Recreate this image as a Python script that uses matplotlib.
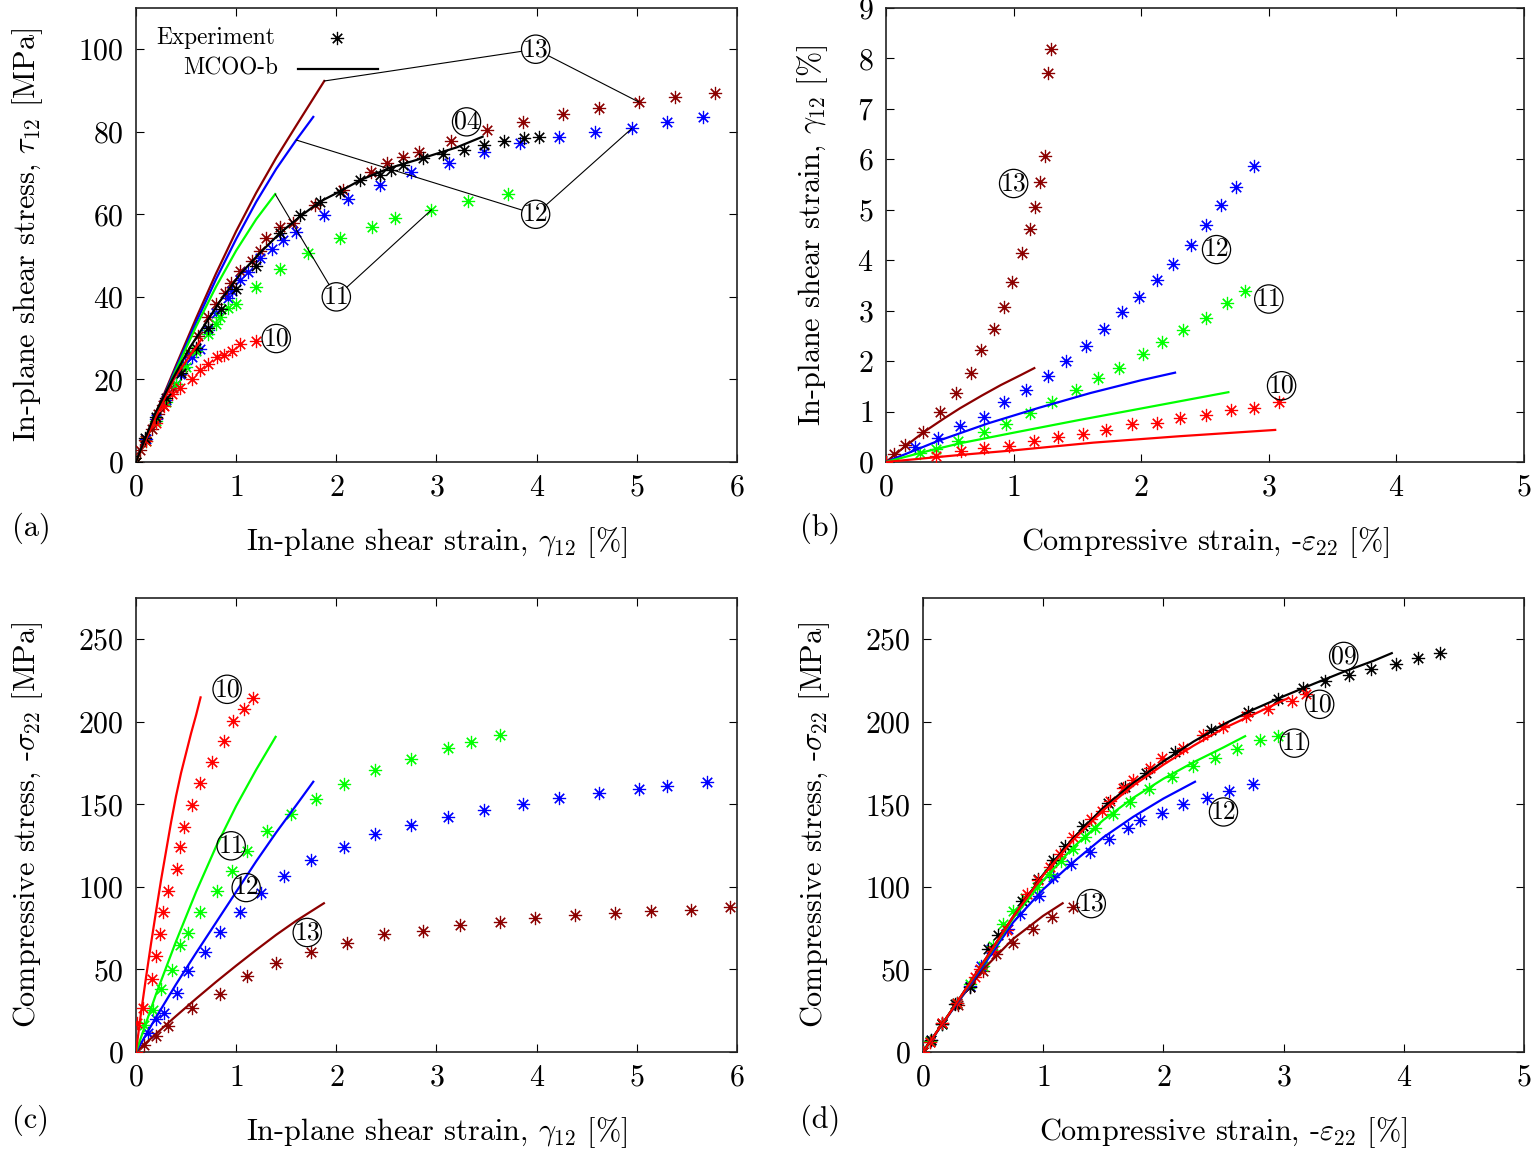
import matplotlib
matplotlib.use("Agg")
import matplotlib.pyplot as plt

plt.rcParams.update({
    "font.family": "cmr10",
    "mathtext.fontset": "cm",
    "axes.unicode_minus": False,
    "axes.formatter.use_mathtext": True,
    "font.size": 20,
})

# ---------------------------------------------------------------- colours
C09 = "black"
C04 = "black"
C10 = "#ff0000"
C11 = "#00ff00"
C12 = "#0000ff"
C13 = "#8b0000"

# ======================= (a) shear stress vs shear strain ================
# experiments
a_exp04_g = [0, 0.09, 0.2, 0.3, 0.45, 0.6, 0.72, 0.85, 1.0, 1.2, 1.44, 1.64, 1.84, 2.04,
             2.24, 2.44, 2.55, 2.67, 2.87, 3.07, 3.27, 3.47, 3.67, 3.87, 4.02]
a_exp04_t = [0, 5.8, 11, 15.5, 21.5, 27.5, 32.5, 37, 42, 47.5, 55.5, 59.8, 63, 65.5,
             68.4, 69.6, 70.8, 72, 73.6, 74.5, 75.7, 76.8, 77.8, 78.6, 78.8]
a_exp10_g = [0, 0.1, 0.2, 0.28, 0.36, 0.44, 0.56, 0.64, 0.72, 0.81, 0.88, 0.96, 1.04, 1.2]
a_exp10_t = [0, 5, 9.5, 13.5, 16.5, 18, 20, 22.2, 23.8, 25.5, 26, 27, 28.6, 29.2]
a_exp11_g = [0, 0.1, 0.2, 0.3, 0.4, 0.5, 0.6, 0.72, 0.8, 0.84, 0.92, 1.0, 1.2, 1.44, 1.72,
             2.04, 2.36, 2.59, 2.95, 3.31, 3.71]
a_exp11_t = [0, 5, 10, 14.5, 19, 23, 27, 31, 33.4, 35, 37.4, 38.2, 42.4, 46.7, 50.7,
             54.3, 56.9, 59, 61.1, 63.3, 64.9]
a_exp12_g = [0, 0.1, 0.2, 0.3, 0.4, 0.44, 0.49, 0.56, 0.64, 0.72, 0.8, 0.92, 0.96, 1.04,
             1.12, 1.24, 1.36, 1.47, 1.6, 1.88, 2.12, 2.44, 2.75, 3.12, 3.47, 3.83, 4.22,
             4.58, 4.95, 5.3, 5.66]
a_exp12_t = [0, 5.5, 10.5, 15, 19, 21.4, 23.8, 25.5, 27.4, 32, 36.2, 39.8, 41.4, 44,
             46.1, 49.3, 51.5, 53.7, 55.7, 59.9, 63.8, 67.1, 70.2, 72.4, 75.1, 77.2, 78.7,
             79.9, 80.8, 82.4, 83.5]
a_exp13_g = [0, 0.04, 0.09, 0.16, 0.22, 0.27, 0.37, 0.45, 0.53, 0.62, 0.72, 0.8, 0.89,
             0.95, 1.04, 1.16, 1.24, 1.3, 1.44, 1.57, 1.79, 2.07, 2.35, 2.51, 2.67, 2.83,
             3.14, 3.5, 3.86, 4.26, 4.62, 5.02, 5.38, 5.78]
a_exp13_t = [0, 2.9, 5.3, 8.1, 11.7, 13.7, 17.8, 22, 26.5, 30.6, 35, 38.2, 41, 43.4,
             46.3, 48.8, 51.2, 54.3, 56.9, 57.9, 62.3, 66, 70.2, 72.4, 74, 75, 77.8, 80.4,
             82.4, 84.2, 85.7, 87.2, 88.4, 89.4]
# MCOO-b model
a_mod04_g = [0, 0.19, 0.37, 0.54, 0.67, 0.84, 1.04, 1.24, 1.44, 1.64, 1.84, 2.0, 2.25,
             2.53, 2.86, 3.2, 3.46]
a_mod04_t = [0, 11.7, 20.3, 27.8, 32.6, 39, 45.5, 50.7, 55.5, 59.5, 63.1, 65.1, 68.4,
             71.2, 73.6, 76.2, 78.8]
a_mod10_g = [0, 0.2, 0.39, 0.656]
a_mod10_t = [0, 11, 20.6, 29.8]
a_mod11_g = [0, 0.2, 0.4, 0.6, 0.8, 1.0, 1.2, 1.39]
a_mod11_t = [0, 11.3, 22.3, 32.8, 42.5, 51.2, 58.8, 64.9]
a_mod12_g = [0, 0.2, 0.4, 0.6, 0.8, 1.0, 1.2, 1.4, 1.6, 1.77]
a_mod12_t = [0, 11.5, 22.8, 33.8, 44.3, 54, 63, 71, 78, 83.6]
a_mod13_g = [0, 0.2, 0.4, 0.6, 0.8, 1.0, 1.2, 1.4, 1.6, 1.88]
a_mod13_t = [0, 11.8, 23.4, 34.8, 45.7, 55.9, 65.2, 73.7, 81.5, 92.3]

# ================ (b) shear strain vs compressive strain ================
b_exp10_e = [0, 0.39, 0.585, 0.77, 0.967, 1.16, 1.345, 1.547, 1.72, 1.93, 2.12, 2.30,
             2.505, 2.70, 2.884, 3.08]
b_exp10_g = [0, 0.11, 0.22, 0.27, 0.32, 0.42, 0.50, 0.56, 0.63, 0.75, 0.78, 0.87, 0.93,
             1.02, 1.06, 1.19]
b_exp11_e = [0, 0.266, 0.39, 0.567, 0.77, 0.94, 1.128, 1.30, 1.49, 1.664, 1.826, 2.01,
             2.166, 2.325, 2.505, 2.67, 2.81]
b_exp11_g = [0, 0.17, 0.26, 0.42, 0.60, 0.75, 0.97, 1.18, 1.43, 1.66, 1.86, 2.14, 2.37,
             2.62, 2.85, 3.15, 3.38]
b_exp12_e = [0, 0.227, 0.41, 0.58, 0.77, 0.927, 1.10, 1.27, 1.41, 1.567, 1.71, 1.847,
             1.98, 2.12, 2.247, 2.388, 2.505, 2.623, 2.746, 2.886]
b_exp12_g = [0, 0.29, 0.47, 0.71, 0.90, 1.18, 1.43, 1.71, 2.01, 2.30, 2.63, 2.97, 3.26,
             3.60, 3.93, 4.30, 4.70, 5.09, 5.46, 5.86]
b_exp13_e = [0, 0.063, 0.149, 0.287, 0.423, 0.549, 0.664, 0.745, 0.85, 0.925, 0.99,
             1.068, 1.128, 1.168, 1.207, 1.246, 1.267, 1.29]
b_exp13_g = [0, 0.16, 0.34, 0.60, 1.0, 1.375, 1.77, 2.21, 2.64, 3.07, 3.56, 4.14, 4.62,
             5.05, 5.54, 6.07, 7.71, 8.19]
b_mod10_e = [0, 0.58, 1.0, 1.625, 2.3, 3.05]
b_mod10_g = [0, 0.139, 0.23, 0.383, 0.51, 0.635]
b_mod11_e = [0, 0.3, 0.58, 1.0, 1.5, 2.0, 2.683]
b_mod11_g = [0, 0.2, 0.37, 0.58, 0.825, 1.06, 1.383]
b_mod12_e = [0, 0.4, 0.8, 1.2, 1.6, 2.0, 2.265]
b_mod12_g = [0, 0.41, 0.765, 1.075, 1.365, 1.62, 1.77]
b_mod13_e = [0, 0.15, 0.3, 0.45, 0.58, 0.75, 0.9, 1.05, 1.162]
b_mod13_g = [0, 0.31, 0.60, 0.855, 1.065, 1.315, 1.525, 1.715, 1.86]

# ============== (c) compressive stress vs shear strain ==================
c_exp10_g = [0, 0.013, 0.073, 0.157, 0.2, 0.24, 0.27, 0.32, 0.41, 0.44, 0.48, 0.555,
             0.64, 0.76, 0.88, 0.965, 1.08, 1.165]
c_exp10_s = [0, 17.3, 26.4, 44.5, 58, 71.2, 84.7, 97.8, 110.9, 123.9, 136.4, 149.7,
             162.8, 175.8, 188.3, 200.4, 207.8, 214.4]
c_exp11_g = [0, 0.08, 0.167, 0.246, 0.362, 0.44, 0.52, 0.64, 0.805, 0.96, 1.11, 1.31,
             1.55, 1.80, 2.08, 2.39, 2.75, 3.11, 3.34, 3.63]
c_exp11_s = [0, 16.3, 25.3, 38.4, 49.9, 64.6, 72.2, 84.7, 97.8, 109.8, 121.5, 133.6,
             144, 153.1, 162.5, 170.6, 177.2, 183.9, 187.7, 191.9]
c_exp12_g = [0, 0.123, 0.2, 0.28, 0.406, 0.52, 0.69, 0.84, 1.04, 1.245, 1.48, 1.75,
             2.08, 2.39, 2.75, 3.11, 3.47, 3.865, 4.22, 4.62, 5.02, 5.30, 5.70]
c_exp12_s = [0, 11.7, 20.3, 23.4, 35.8, 48.9, 60.5, 72.6, 84.7, 96.1, 106.8, 116.3,
             124.3, 132.3, 137.4, 142.4, 146.5, 150.5, 154.1, 156.9, 159.5, 160.9, 163.5]
c_exp13_g = [0, 0.08, 0.2, 0.32, 0.555, 0.84, 1.11, 1.394, 1.75, 2.11, 2.475, 2.87,
             3.23, 3.63, 3.98, 4.38, 4.78, 5.14, 5.54, 5.93]
c_exp13_s = [0, 4.2, 9.9, 15.7, 26.4, 35.4, 45.9, 53.9, 60.5, 66, 71.2, 73.6, 77.2, 79,
             81.3, 82.7, 84.1, 85.3, 86.3, 87.7]
c_mod10_g = [0, 0.05, 0.1, 0.15, 0.2, 0.25, 0.3, 0.35, 0.4, 0.45, 0.5, 0.55, 0.6, 0.645]
c_mod10_s = [0, 23.5, 45, 65.5, 85, 104, 121.5, 139, 155, 169, 181, 193, 204, 214.8]
c_mod11_g = [0, 0.2, 0.4, 0.6, 0.8, 1.0, 1.2, 1.394]
c_mod11_s = [0, 35, 67, 97, 124.5, 149, 171, 190.9]
c_mod12_g = [0, 0.2, 0.4, 0.6, 0.8, 1.0, 1.2, 1.4, 1.6, 1.77]
c_mod12_s = [0, 21, 41, 60, 78.5, 97, 115.5, 133, 149.5, 163.7]
c_mod13_g = [0, 0.2, 0.4, 0.6, 0.8, 1.0, 1.2, 1.4, 1.6, 1.876]
c_mod13_s = [0, 11, 21.8, 32.3, 42.5, 52.3, 61.8, 71, 79.5, 90.1]

# ============ (d) compressive stress vs compressive strain ==============
d_exp09_e = [0, 0.07, 0.156, 0.27, 0.39, 0.543, 0.626, 0.82, 0.96, 1.084, 1.18, 1.334,
             1.54, 1.68, 1.855, 2.1, 2.4, 2.7, 2.95, 3.16, 3.345, 3.547, 3.725, 3.935,
             4.12, 4.3]
d_exp09_s = [0, 7, 16.9, 29, 39.4, 62.6, 70.6, 91.3, 104.8, 116.3, 124.9, 137, 151,
             160.7, 169.2, 182, 195, 206, 214, 220.5, 224.5, 228.5, 232.2, 235, 238.7,
             241.4]
d_exp10_e = [0, 0.058, 0.156, 0.28, 0.433, 0.474, 0.58, 0.7, 0.863, 0.96, 1.057, 1.14,
             1.25, 1.40, 1.487, 1.556, 1.667, 1.75, 1.89, 1.985, 2.166, 2.326, 2.50, 2.69,
             2.87, 3.067, 3.186]
d_exp10_s = [0, 6.2, 17.3, 29.4, 45.5, 50.5, 61, 74, 95.8, 104, 111.8, 120, 130, 141,
             146, 152, 160.1, 164.6, 172.2, 177.8, 184.3, 192.3, 196.7, 203.4, 208,
             212.4, 216.9]
d_exp11_e = [0, 0.06, 0.156, 0.28, 0.39, 0.5, 0.58, 0.668, 0.75, 0.85, 0.946, 1.05,
             1.15, 1.25, 1.35, 1.43, 1.58, 1.72, 1.88, 2.07, 2.25, 2.43, 2.61, 2.80, 2.95]
d_exp11_s = [0, 6.5, 17, 29.5, 41, 52, 64, 77.7, 85.7, 93, 99.8, 108, 116, 123, 130,
             135.6, 144.4, 151.5, 159.5, 166.6, 173.2, 178.2, 183.7, 188.7, 191.3]
d_exp12_e = [0, 0.07, 0.156, 0.28, 0.39, 0.48, 0.57, 0.71, 0.807, 0.968, 1.084, 1.23,
             1.39, 1.55, 1.708, 1.805, 1.99, 2.166, 2.366, 2.55, 2.743]
d_exp12_s = [0, 7, 17, 29.5, 40, 52, 62.6, 74.6, 83.7, 94.7, 106, 113.9, 121.3, 129,
             135.6, 140.4, 145, 150.1, 154.1, 158.1, 162.2]
d_exp13_e = [0, 0.058, 0.156, 0.294, 0.39, 0.5, 0.607, 0.75, 0.913, 1.07, 1.245]
d_exp13_s = [0, 6.2, 17.3, 28.4, 39.4, 49, 59.6, 66, 74.6, 81.7, 88.1]
d_mod09_e = [0, 0.25, 0.5, 0.75, 1.0, 1.25, 1.5, 1.75, 2.0, 2.25, 2.5, 2.75, 3.0, 3.25,
             3.5, 3.75, 3.9]
d_mod09_s = [0, 26.5, 54, 82, 107.5, 129.5, 148, 163, 176, 188, 198.5, 207.5, 215.5,
             223, 230.3, 237, 241.6]
d_mod10_e = [0, 0.25, 0.5, 0.75, 1.0, 1.25, 1.5, 1.75, 2.0, 2.25, 2.5, 2.75, 3.04]
d_mod10_s = [0, 26.5, 54, 82, 107, 128.5, 146.5, 161.5, 174, 185.5, 196, 204.5, 214.4]
d_mod11_e = [0, 0.25, 0.5, 0.75, 1.0, 1.25, 1.5, 1.75, 2.0, 2.25, 2.5, 2.68]
d_mod11_s = [0, 26.5, 53.5, 81, 104, 124, 140.5, 154, 165.5, 175.5, 184.5, 191.3]
d_mod12_e = [0, 0.25, 0.5, 0.75, 1.0, 1.25, 1.5, 1.75, 2.0, 2.263]
d_mod12_s = [0, 26, 52, 78.5, 98.5, 115, 130, 142.5, 153.5, 163.7]
d_mod13_e = [0, 0.25, 0.5, 0.75, 1.0, 1.162]
d_mod13_s = [0, 26.5, 50, 68.5, 82.5, 90.1]

# specimen tags (label, x, y) for each panel
a_tags = [("04", 3.30, 82.4), ("10", 1.40, 29.9), ("11", 2.0, 40.0),
          ("12", 3.99, 60.0), ("13", 3.99, 100.0)]
b_tags = [("13", 1.0, 5.52), ("12", 2.59, 4.21), ("11", 3.0, 3.23), ("10", 3.1, 1.51)]
c_tags = [("10", 0.91, 219.7), ("11", 0.95, 124.9), ("12", 1.10, 99.6), ("13", 1.71, 72.4)]
d_tags = [("09", 3.50, 239.6), ("10", 3.30, 210.6), ("11", 3.09, 187.1),
          ("12", 2.50, 145.4), ("13", 1.40, 89.9)]

# ------------------------------------------------------------------ style
ASTER = (8, 2, 0)          # eight-spoke asterisk
MS, MEW, LW = 9.5, 0.85, 1.6
TAG_FS = 18.5
TICK_FS = 21.5
LABEL_FS = 21.8
TAG_BOX = dict(boxstyle="circle,pad=0.05", fc="none", ec="black", lw=0.9)


def exp(ax, x, y, c):
    ax.plot(x, y, ls="none", marker=ASTER, ms=MS, mew=MEW, color=c, zorder=3)


def mod(ax, x, y, c):
    ax.plot(x, y, "-", lw=LW, color=c, zorder=4, solid_joinstyle="round")


def tag(ax, s, x, y):
    ax.text(x, y, s, ha="center", va="center", fontsize=TAG_FS, bbox=TAG_BOX, zorder=6)


def leader(ax, xy_tag, xy_pt):
    # thin connector clipped at the circle outline
    ax.annotate("00", xy=xy_pt, xytext=xy_tag, ha="center", va="center",
                fontsize=TAG_FS, color="none",
                bbox=dict(boxstyle="circle,pad=0.05", fc="none", ec="none"),
                arrowprops=dict(arrowstyle="-", lw=0.8, color="black",
                                shrinkA=0, shrinkB=0), zorder=5)


def frame(ax, xlim, ylim, xticks, yticks):
    ax.set_xlim(*xlim)
    ax.set_ylim(*ylim)
    ax.set_xticks(xticks)
    ax.set_yticks(yticks)
    ax.tick_params(direction="in", length=6, width=0.8, top=True, right=True,
                   labelsize=TICK_FS, pad=9)
    for sp in ax.spines.values():
        sp.set_linewidth(1.2)
        sp.set_color("#222222")


fig = plt.figure(figsize=(15.38, 11.5), dpi=100)

# ---------------------------------------------------------------- panel a
ax = fig.add_axes([0.0884, 0.5983, 0.3908, 0.3948])
for gx, ty, c in [(a_exp13_g, a_exp13_t, C13), (a_exp12_g, a_exp12_t, C12),
                  (a_exp11_g, a_exp11_t, C11), (a_exp10_g, a_exp10_t, C10),
                  (a_exp04_g, a_exp04_t, C04)]:
    exp(ax, gx, ty, c)
for gx, ty, c in [(a_mod13_g, a_mod13_t, C13), (a_mod12_g, a_mod12_t, C12),
                  (a_mod11_g, a_mod11_t, C11), (a_mod10_g, a_mod10_t, C10),
                  (a_mod04_g, a_mod04_t, C04)]:
    mod(ax, gx, ty, c)
frame(ax, (0, 6), (0, 110), range(0, 7), range(0, 101, 20))
for s, x, y in a_tags:
    tag(ax, s, x, y)
tag_pos = {s: (x, y) for s, x, y in a_tags}
leader(ax, tag_pos["13"], (a_mod13_g[-1], a_mod13_t[-1]))
leader(ax, tag_pos["13"], (a_exp13_g[31], a_exp13_t[31]))
leader(ax, tag_pos["12"], (a_mod12_g[8], a_mod12_t[8]))
leader(ax, tag_pos["12"], (a_exp12_g[28], a_exp12_t[28]))
leader(ax, tag_pos["11"], (a_mod11_g[-1], a_mod11_t[-1]))
leader(ax, tag_pos["11"], (a_exp11_g[18], a_exp11_t[18]))
# key
ax.text(0.231, 0.934, "Experiment", transform=ax.transAxes, ha="right", va="center",
        fontsize=16.8)
ax.plot([0.334], [0.934], transform=ax.transAxes, ls="none", marker=ASTER, ms=MS,
        mew=MEW, color="black")
ax.text(0.236, 0.866, "MCOO-b", transform=ax.transAxes, ha="right", va="center",
        fontsize=16.8)
ax.plot([0.27, 0.403], [0.866, 0.866], transform=ax.transAxes, lw=LW, color="black")
ax.set_xlabel(r"In-plane shear strain, $\gamma_{12}$ [%]", fontsize=LABEL_FS)
ax.set_ylabel(r"In-plane shear stress, $\tau_{12}$ [MPa]", fontsize=LABEL_FS)
ax.xaxis.set_label_coords(0.5, -0.139)
ax.yaxis.set_label_coords(-0.151, 0.5)

# ---------------------------------------------------------------- panel b
ax = fig.add_axes([0.5761, 0.5983, 0.4148, 0.3948])
for ex, gy, c in [(b_exp13_e, b_exp13_g, C13), (b_exp12_e, b_exp12_g, C12),
                  (b_exp11_e, b_exp11_g, C11), (b_exp10_e, b_exp10_g, C10)]:
    exp(ax, ex, gy, c)
for ex, gy, c in [(b_mod13_e, b_mod13_g, C13), (b_mod12_e, b_mod12_g, C12),
                  (b_mod11_e, b_mod11_g, C11), (b_mod10_e, b_mod10_g, C10)]:
    mod(ax, ex, gy, c)
frame(ax, (0, 5), (0, 9), range(0, 6), range(0, 10))
for s, x, y in b_tags:
    tag(ax, s, x, y)
ax.set_xlabel(r"Compressive strain, -$\varepsilon_{22}$ [%]", fontsize=LABEL_FS)
ax.set_ylabel(r"In-plane shear strain, $\gamma_{12}$ [%]", fontsize=LABEL_FS)
ax.xaxis.set_label_coords(0.5, -0.139)
ax.yaxis.set_label_coords(-0.088, 0.5)

# ---------------------------------------------------------------- panel c
ax = fig.add_axes([0.0884, 0.0852, 0.3908, 0.3948])
for gx, sy, c in [(c_exp13_g, c_exp13_s, C13), (c_exp12_g, c_exp12_s, C12),
                  (c_exp11_g, c_exp11_s, C11), (c_exp10_g, c_exp10_s, C10)]:
    exp(ax, gx, sy, c)
for gx, sy, c in [(c_mod13_g, c_mod13_s, C13), (c_mod12_g, c_mod12_s, C12),
                  (c_mod11_g, c_mod11_s, C11), (c_mod10_g, c_mod10_s, C10)]:
    mod(ax, gx, sy, c)
frame(ax, (0, 6), (0, 275), range(0, 7), range(0, 251, 50))
for s, x, y in c_tags:
    tag(ax, s, x, y)
ax.set_xlabel(r"In-plane shear strain, $\gamma_{12}$ [%]", fontsize=LABEL_FS)
ax.set_ylabel(r"Compressive stress, -$\sigma_{22}$ [MPa]", fontsize=LABEL_FS)
ax.xaxis.set_label_coords(0.5, -0.139)
ax.yaxis.set_label_coords(-0.151, 0.5)

# ---------------------------------------------------------------- panel d
ax = fig.add_axes([0.6001, 0.0852, 0.3908, 0.3948])
for ex, sy, c in [(d_exp13_e, d_exp13_s, C13), (d_exp12_e, d_exp12_s, C12),
                  (d_exp11_e, d_exp11_s, C11), (d_exp09_e, d_exp09_s, C09),
                  (d_exp10_e, d_exp10_s, C10)]:
    exp(ax, ex, sy, c)
for ex, sy, c in [(d_mod13_e, d_mod13_s, C13), (d_mod12_e, d_mod12_s, C12),
                  (d_mod11_e, d_mod11_s, C11), (d_mod09_e, d_mod09_s, C09),
                  (d_mod10_e, d_mod10_s, C10)]:
    mod(ax, ex, sy, c)
frame(ax, (0, 5), (0, 275), range(0, 6), range(0, 251, 50))
for s, x, y in d_tags:
    tag(ax, s, x, y)
ax.set_xlabel(r"Compressive strain, -$\varepsilon_{22}$ [%]", fontsize=LABEL_FS)
ax.set_ylabel(r"Compressive stress, -$\sigma_{22}$ [MPa]", fontsize=LABEL_FS)
ax.xaxis.set_label_coords(0.5, -0.139)
ax.yaxis.set_label_coords(-0.151, 0.5)

# panel letters
for s, x, y in [("(a)", 0.0078, 0.541), ("(b)", 0.520, 0.541),
                ("(c)", 0.0078, 0.026), ("(d)", 0.520, 0.026)]:
    fig.text(x, y, s, ha="left", va="center", fontsize=LABEL_FS)

fig.savefig("out.png", dpi=100)
